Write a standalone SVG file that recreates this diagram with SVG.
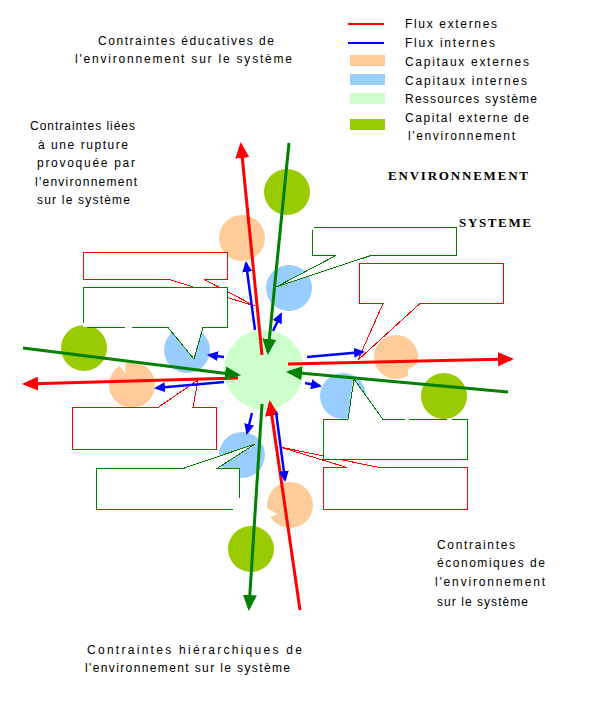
<svg xmlns="http://www.w3.org/2000/svg" width="600" height="708" viewBox="0 0 600 708">
<style>
text{font-family:"Liberation Sans",Arial,sans-serif;font-size:12px;fill:#000}
.big{font-family:"Liberation Serif","Times New Roman",serif;font-size:13px;font-weight:bold}
.ce{fill:#FFCC99}.ci{fill:#99CCFF}.rs{fill:#CCFFCC}.cv{fill:#99CC00}
.cr{fill:#fff;stroke:none}
.sr{fill:none;stroke:#FF0000;stroke-width:1;shape-rendering:crispEdges}
.sg{fill:none;stroke:#008000;stroke-width:1;shape-rendering:crispEdges}
.fr{fill:none;stroke:#FF0000;stroke-width:3}
.fg{fill:none;stroke:#008000;stroke-width:3}
.fb{fill:none;stroke:#0000FF;stroke-width:2.5}
</style>
<defs>
<marker id="hr" markerWidth="16" markerHeight="14" refX="13" refY="7" orient="auto" markerUnits="userSpaceOnUse"><path d="M0,0 L16,7 L0,14 z" fill="#FF0000"/></marker>
<marker id="hg" markerWidth="16" markerHeight="14" refX="13" refY="7" orient="auto" markerUnits="userSpaceOnUse"><path d="M0,0 L16,7 L0,14 z" fill="#008000"/></marker>
<marker id="hb" markerWidth="11" markerHeight="10" refX="9" refY="5" orient="auto" markerUnits="userSpaceOnUse"><path d="M0,0 L11,5 L0,10 z" fill="#0000FF"/></marker>
</defs>
<rect width="600" height="708" fill="#fff"/>

<g id="legend">
<line x1="348" y1="24" x2="384" y2="24" stroke="#FF0000" stroke-width="2"/>
<line x1="348" y1="43" x2="384" y2="43" stroke="#0000FF" stroke-width="2"/>
<rect x="350" y="55" width="35" height="11" class="ce"/>
<rect x="350" y="74" width="35" height="11" class="ci"/>
<rect x="350" y="93" width="35" height="11" class="rs"/>
<rect x="350" y="119" width="35" height="11" class="cv"/>
<text x="405" y="28" textLength="92">Flux externes</text>
<text x="405" y="47" textLength="90">Flux internes</text>
<text x="405" y="66" textLength="124">Capitaux externes</text>
<text x="405" y="85" textLength="122">Capitaux internes</text>
<text x="405" y="103" textLength="132">Ressources système</text>
<text x="405" y="122" textLength="124">Capital externe de</text>
<text x="408" y="140" textLength="107">l'environnement</text>
</g>

<g id="labels">
<text x="98" y="45" textLength="176">Contraintes éducatives de</text>
<text x="75" y="63" textLength="217">l'environnement sur le système</text>
<text x="30" y="130" textLength="105">Contraintes liées</text>
<text x="38" y="149" textLength="90">à une rupture</text>
<text x="37" y="167" textLength="98">provoquée par</text>
<text x="35" y="186" textLength="102">l'environnement</text>
<text x="37" y="204" textLength="93">sur le système</text>
<text class="big" x="388" y="180" textLength="140">ENVIRONNEMENT</text>
<text class="big" x="459" y="227" textLength="72">SYSTEME</text>
<text x="87" y="654" textLength="215">Contraintes hiérarchiques de</text>
<text x="85" y="672" textLength="205">l'environnement sur le système</text>
<text x="437" y="549" textLength="78">Contraintes</text>
<text x="437" y="567" textLength="108">économiques de</text>
<text x="435" y="586" textLength="110">l'environnement</text>
<text x="437" y="606" textLength="91">sur le système</text>
</g>

<g id="systeme"><circle cx="264" cy="370" r="40" class="rs"/></g>
<g id="capital-ext-haut"><circle cx="287" cy="192" r="23" class="cv"/></g>
<g id="capital-ext-gauche"><circle cx="84" cy="348" r="23" class="cv"/></g>
<g id="capital-ext-droite"><circle cx="444" cy="396" r="23" class="cv"/></g>
<g id="capital-ext-bas"><circle cx="251" cy="549" r="23" class="cv"/></g>

<g id="capitaux-externes-haut"><circle cx="242" cy="238" r="23" class="ce"/></g>
<g id="capitaux-externes-gauche"><circle cx="132" cy="385" r="23" class="ce"/><polygon class="cr" points="125.3,373.3 125.3,350 108,350"/></g>
<g id="capitaux-externes-droite"><circle cx="396" cy="357" r="22" class="ce"/><polygon class="cr" points="408,370 408,392 430,355"/></g>
<g id="capitaux-externes-bas"><circle cx="290" cy="505" r="23" class="ce"/><polygon class="cr" points="278,514 264,507 265,519"/></g>

<g id="capitaux-internes-haut"><circle cx="289" cy="288" r="23" class="ci"/></g>
<g id="capitaux-internes-gauche"><circle cx="187" cy="350" r="23" class="ci"/></g>
<g id="capitaux-internes-droite"><circle cx="343" cy="396" r="23" class="ci"/></g>
<g id="capitaux-internes-bas"><circle cx="242" cy="455" r="23" class="ci"/></g>

<g id="callout-c">
<polygon class="cr" points="83,252 227,252 227,279 204,279 255,306 169,279 83,279"/>
<path class="sr" d="M83.5,252.5 H227.5 V279.5 H204 L255,306 L169,279.5 H83.5 Z"/>
</g>
<g id="callout-d">
<polygon class="cr" points="83,287 227,287 227,327 203,327 194,359 168,327 83,327"/>
<path class="sg" d="M83.5,323 V287.5 H227.5 V327.5 H203 L194,359 L168,327.5 H132 M125,327.5 H87"/>
</g>
<g id="callout-a">
<polygon class="cr" points="312,227 456,227 456,255 371,255 276,287 336,255 312,255"/>
<path class="sg" d="M314,227.5 H456.5 V255.5 H371 L276,287 L336,255.5 H312.5 V230"/>
</g>
<g id="callout-b">
<polygon class="cr" points="359,263 503,263 503,303 420,303 358,360 383,303 359,303"/>
<path class="sr" d="M359.5,263.5 H503.5 V303.5 H420 L358,360 L383,303.5 H359.5 Z"/>
</g>
<g id="callout-e">
<polygon class="cr" points="72,407 158,407 198,380 193,407 216,407 216,449 72,449"/>
<path class="sr" d="M72.5,407.5 H158 L198,380 L193,407.5 H216.5 V449.5 H72.5 Z"/>
</g>
<g id="callout-g">
<polygon class="cr" points="96,468 183,468 255,444 217,468 239,468 239,509 96,509"/>
<path class="sg" d="M233,509.5 H96.5 V468.5 H183 L255,444 L217,468.5 H239.5 V498"/>
</g>
<g id="callout-h">
<polygon class="cr" points="323,467 347,467 280,447 379,467 467,467 467,509 323,509"/>
<path class="sr" d="M323.5,467.5 H347 L280,447 L379,467.5 H467.5 V509.5 H323.5 Z"/>
</g>
<g id="callout-f">
<polygon class="cr" points="323,419 348,419 353,379 383,419 467,419 467,459 323,459"/>
<path class="sg" d="M405,419.5 H383 L354,379 L348,419.5 H323.5 V459.5 H467.5 V419.5 H452 M447,419.5 H409"/>
</g>

<g id="connectors">
<line class="fr" x1="262" y1="355" x2="241" y2="145" marker-end="url(#hr)"/>
<line class="fr" x1="288" y1="364" x2="511" y2="359" marker-end="url(#hr)"/>
<line class="fr" x1="238" y1="378" x2="25" y2="384" marker-end="url(#hr)"/>
<line class="fr" x1="300" y1="610" x2="270" y2="403" marker-end="url(#hr)"/>
<line class="fg" x1="289" y1="143" x2="268" y2="352" marker-end="url(#hg)"/>
<line class="fg" x1="508" y1="392" x2="289" y2="372" marker-end="url(#hg)"/>
<line class="fg" x1="23" y1="348" x2="238" y2="375" marker-end="url(#hg)"/>
<line class="fg" x1="262" y1="404" x2="249" y2="608" marker-end="url(#hg)"/>
<line class="fb" x1="255" y1="330" x2="246" y2="263" marker-end="url(#hb)"/>
<line class="fb" x1="273" y1="331" x2="281" y2="314" marker-end="url(#hb)"/>
<line class="fb" x1="224" y1="357" x2="209" y2="355" marker-end="url(#hb)"/>
<line class="fb" x1="224" y1="382" x2="156" y2="388" marker-end="url(#hb)"/>
<line class="fb" x1="307" y1="357" x2="363" y2="352" marker-end="url(#hb)"/>
<line class="fb" x1="305" y1="383" x2="320" y2="386" marker-end="url(#hb)"/>
<line class="fb" x1="252" y1="413" x2="247" y2="433" marker-end="url(#hb)"/>
<line class="fb" x1="276" y1="412" x2="285" y2="480" marker-end="url(#hb)"/>
</g>
</svg>
